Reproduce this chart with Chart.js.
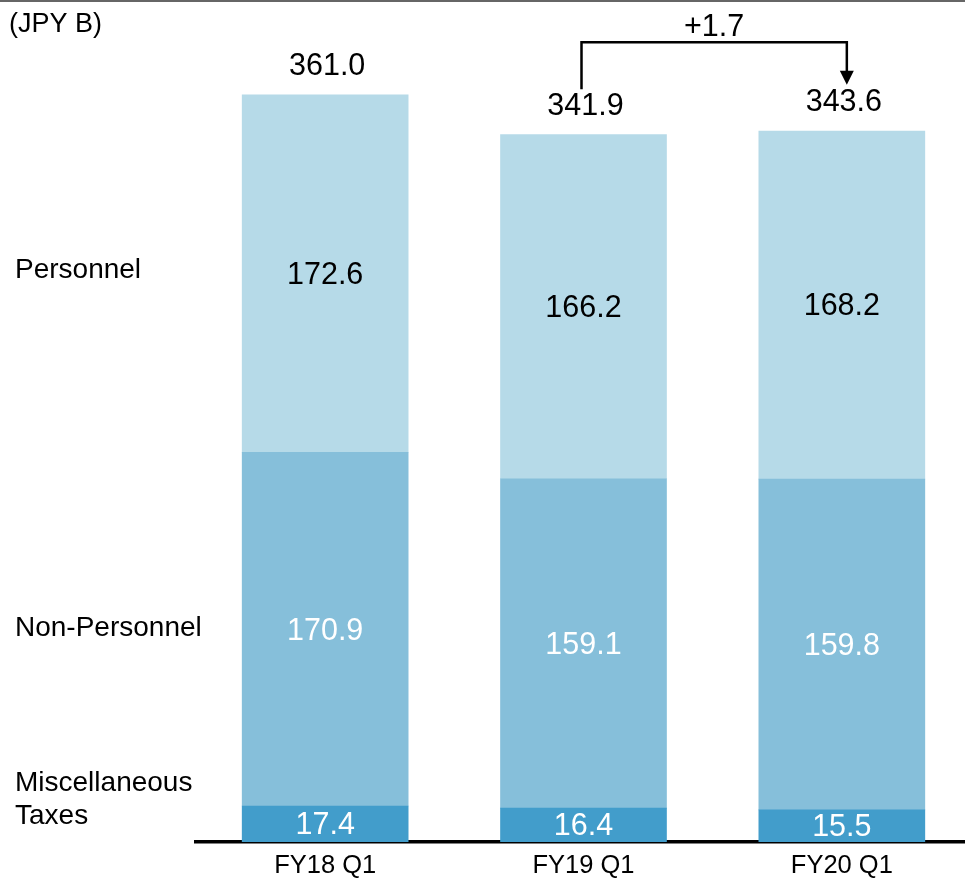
<!DOCTYPE html>
<html>
<head>
<meta charset="utf-8">
<script src="https://cdn.jsdelivr.net/npm/chart.js@4.4.1/dist/chart.umd.min.js"></script>
<style>
  html, body { margin: 0; padding: 0; overflow: hidden; background: #fff; }
  #wrap { width: 965px; height: 880px; overflow: hidden; position: relative; }
  canvas { display: block; }
</style>
</head>
<body>
<div id="wrap"><canvas id="c" width="975" height="880"></canvas></div>
<script>
// ---- data ----
const categories = ['FY18 Q1', 'FY19 Q1', 'FY20 Q1'];
const miscTaxes = [17.4, 16.4, 15.5];
const nonPersonnel = [170.9, 159.1, 159.8];
const personnel = [172.6, 166.2, 168.2];
const totals = [361.0, 341.9, 343.6];
const changeLabel = '+1.7';
const unitLabel = '(JPY B)';
const seriesNames = [['Miscellaneous', 'Taxes'], ['Non-Personnel'], ['Personnel']];

const FONT = "'Liberation Sans', Arial, sans-serif";

const labelPlugin = {
  id: 'labels',
  afterDraw(chart) {
    const ctx = chart.ctx;
    const y = chart.scales.y;
    ctx.save();
    // top rule
    ctx.fillStyle = '#666666';
    ctx.fillRect(0, 0, 965, 2);

    // unit label
    ctx.fillStyle = '#000';
    ctx.font = '27px ' + FONT;
    ctx.textAlign = 'left';
    ctx.textBaseline = 'middle';
    ctx.fillText(unitLabel, 9, 25);

    // segment labels
    ctx.font = '30.5px ' + FONT;
    ctx.textAlign = 'center';
    chart.data.datasets.forEach((ds, i) => {
      const meta = chart.getDatasetMeta(i);
      meta.data.forEach((el, j) => {
        ctx.fillStyle = ds.labelColor;
        ctx.fillText(ds.data[j].toFixed(1), el.x, (el.y + el.base) / 2 + 2);
      });
    });

    // totals
    const topMeta = chart.getDatasetMeta(2);
    ctx.fillStyle = '#000';
    totals.forEach((t, j) => {
      const el = topMeta.data[j];
      ctx.fillText(t.toFixed(1), el.x + 2, y.getPixelForValue(t) - 28);
    });

    // series names at left, aligned to first bar's segments
    ctx.font = '28px ' + FONT;
    ctx.textAlign = 'left';
    ctx.fillStyle = '#000';
    const offs = [[-41, -8], [-1], [-3]];
    chart.data.datasets.forEach((ds, i) => {
      const el = chart.getDatasetMeta(i).data[0];
      const cy = (el.y + el.base) / 2;
      seriesNames[i].forEach((line, k) => {
        ctx.fillText(line, 15, cy + offs[i][k]);
      });
    });

    // bracket with arrow from FY19 to FY20 total
    const b1 = topMeta.data[1], b2 = topMeta.data[2];
    const lx = b1.x - 2, rx = b2.x + 5;
    const lBottom = y.getPixelForValue(totals[1]) - 28 - 17;
    const rTip = y.getPixelForValue(totals[2]) - 28 - 18;
    const topY = lBottom - 47;
    ctx.strokeStyle = '#000';
    ctx.lineWidth = 2.5;
    ctx.beginPath();
    ctx.moveTo(lx, lBottom);
    ctx.lineTo(lx, topY);
    ctx.lineTo(rx, topY);
    ctx.lineTo(rx, rTip - 12);
    ctx.stroke();
    ctx.fillStyle = '#000';
    ctx.beginPath();
    ctx.moveTo(rx - 7, rTip - 14);
    ctx.lineTo(rx + 7, rTip - 14);
    ctx.lineTo(rx, rTip);
    ctx.closePath();
    ctx.fill();

    ctx.font = '30.5px ' + FONT;
    ctx.textAlign = 'center';
    ctx.fillText(changeLabel, (lx + rx) / 2, topY - 15);
    ctx.restore();
  }
};

new Chart(document.getElementById('c'), {
  type: 'bar',
  data: {
    labels: categories,
    datasets: [
      { label: 'Miscellaneous Taxes', data: miscTaxes, backgroundColor: '#429dcb', labelColor: '#ffffff' },
      { label: 'Non-Personnel', data: nonPersonnel, backgroundColor: '#86bfda', labelColor: '#ffffff' },
      { label: 'Personnel', data: personnel, backgroundColor: '#b6dae8', labelColor: '#000000' }
    ]
  },
  options: {
    responsive: false,
    animation: false,
    layout: { padding: { left: 196, right: 4, top: 14, bottom: 0 } },
    datasets: { bar: { barThickness: 166, borderWidth: 0 } },
    plugins: { legend: { display: false }, tooltip: { enabled: false } },
    scales: {
      x: {
        stacked: true,
        grid: { display: false, drawTicks: false },
        border: { display: true, color: '#000', width: 3.5 },
        ticks: { color: '#000', font: { size: 25.5, family: FONT }, padding: 9 },
        afterFit: (s) => { s.height = 38; }
      },
      y: {
        stacked: true,
        display: false,
        min: 0,
        max: 400
      }
    }
  },
  plugins: [labelPlugin]
});
</script>
</body>
</html>
